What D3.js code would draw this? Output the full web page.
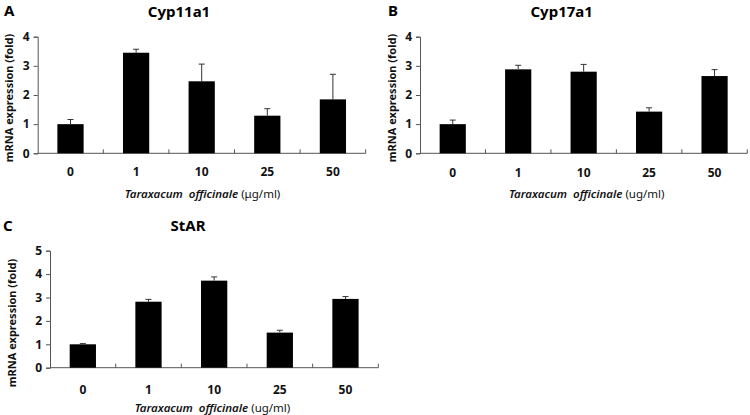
<!DOCTYPE html>
<html><head><meta charset="utf-8">
<script src="https://cdn.jsdelivr.net/npm/d3@7"></script>
<style>
body{margin:0;background:#fff;}
svg{display:block;font-family:"Noto Sans","Open Sans",sans-serif;}
</style></head>
<body>
<svg id="c" width="750" height="415"></svg>
<script>
const categories = ["0","1","10","25","50"];
const cypA_values = [1.0, 3.45, 2.47, 1.29, 1.85];
const cypA_errors = [0.16, 0.12, 0.59, 0.24, 0.86];
const cypB_values = [1.0, 2.88, 2.80, 1.43, 2.65];
const cypB_errors = [0.14, 0.14, 0.25, 0.13, 0.22];
const star_values = [1.0, 2.82, 3.72, 1.50, 2.94];
const star_errors = [0.03, 0.10, 0.16, 0.10, 0.10];
const yTicksAB = [0,1,2,3,4];
const yTicksC = [0,1,2,3,4,5];

const panels = [
  {letter:"A", title:"Cyp11a1", unit:"(μg/ml)", values:cypA_values, errors:cypA_errors, ticks:yTicksAB, ymax:4,
   x0:37.7, x1:365.7, yTop:36.7, yBot:153.3, titleX:179, titleY:11, letterX:4, letterY:10,
   ytX:8, ytY:98, xtX:202.5, xtY:192.7, tlY:171.7},
  {letter:"B", title:"Cyp17a1", unit:"(ug/ml)", values:cypB_values, errors:cypB_errors, ticks:yTicksAB, ymax:4,
   x0:420, x1:747.3, yTop:36.7, yBot:153.3, titleX:561.7, titleY:11, letterX:388, letterY:10,
   ytX:391, ytY:98, xtX:586.7, xtY:192.7, tlY:172.5},
  {letter:"C", title:"StAR", unit:"(ug/ml)", values:star_values, errors:star_errors, ticks:yTicksC, ymax:5,
   x0:50, x1:378.3, yTop:250.7, yBot:367.7, titleX:188, titleY:225, letterX:3, letterY:225,
   ytX:11, ytY:323, xtX:212.5, xtY:406.7, tlY:389.3}
];

const svg = d3.select("#c");
const axisColor = "#555";

panels.forEach(p => {
  const g = svg.append("g");
  const x = d3.scaleBand().domain(categories).range([p.x0, p.x1]).paddingInner(0.6).paddingOuter(0.3);
  const y = d3.scaleLinear().domain([0, p.ymax]).range([p.yBot, p.yTop]);

  const ya = g.append("g").attr("transform", `translate(${p.x0},0)`)
    .call(d3.axisLeft(y).tickValues(p.ticks).tickSize(4).tickPadding(4).tickFormat(d3.format("d")));
  ya.select(".domain").attr("stroke", axisColor);
  ya.selectAll(".tick line").attr("stroke", axisColor);
  ya.selectAll(".tick text").attr("font-size", 12).attr("font-weight", "bold").attr("fill", "#111")
    .attr("font-family", '"Noto Sans",sans-serif');

  g.append("line").attr("x1", p.x0).attr("x2", p.x1).attr("y1", y(0)).attr("y2", y(0))
    .attr("stroke", axisColor).attr("stroke-width", 1);
  const step = x.step();
  const bounds = categories.map((c, i) => x(c) - step * 0.3 + step);
  g.selectAll(".xt").data(bounds).join("line")
    .attr("x1", d => d).attr("x2", d => d).attr("y1", y(0)).attr("y2", y(0) - 4)
    .attr("stroke", axisColor);

  g.selectAll(".bar").data(p.values).join("rect")
    .attr("x", (d, i) => x(categories[i])).attr("width", x.bandwidth())
    .attr("y", d => y(d)).attr("height", d => y(0) - y(d)).attr("fill", "#000");
  p.values.forEach((v, i) => {
    const cx = x(categories[i]) + x.bandwidth() / 2;
    g.append("line").attr("x1", cx).attr("x2", cx).attr("y1", y(v)).attr("y2", y(v + p.errors[i]))
      .attr("stroke", "#333").attr("stroke-width", 1);
    g.append("line").attr("x1", cx - 3).attr("x2", cx + 3).attr("y1", y(v + p.errors[i])).attr("y2", y(v + p.errors[i]))
      .attr("stroke", "#333").attr("stroke-width", 1);
  });

  g.selectAll(".cl").data(categories).join("text")
    .attr("x", d => x(d) + x.bandwidth() / 2).attr("y", p.tlY)
    .attr("text-anchor", "middle").attr("dominant-baseline", "central")
    .attr("font-size", 12).attr("font-weight", "bold").attr("fill", "#111").text(d => d);

  g.append("text").attr("x", p.titleX).attr("y", p.titleY).attr("text-anchor", "middle")
    .attr("dominant-baseline", "central").attr("font-size", 15).attr("font-weight", "bold").text(p.title);
  g.append("text").attr("x", p.letterX).attr("y", p.letterY).attr("dominant-baseline", "central")
    .attr("font-size", 15).attr("font-weight", "bold").text(p.letter);
  g.append("text").attr("transform", `translate(${p.ytX},${p.ytY}) rotate(-90)`)
    .attr("text-anchor", "middle").attr("dominant-baseline", "central")
    .attr("font-size", 11).attr("font-weight", "bold").attr("fill", "#111").text("mRNA expression (fold)");
  const xt = g.append("text").attr("x", p.xtX).attr("y", p.xtY).attr("text-anchor", "middle")
    .attr("dominant-baseline", "central").attr("font-size", 11.5).attr("fill", "#111")
    .attr("xml:space", "preserve").style("white-space", "pre");
  xt.append("tspan").attr("font-style", "italic").attr("font-weight", "600").text("Taraxacum  officinale");
  xt.append("tspan").attr("font-weight", "normal").text(" " + p.unit);
});
</script>
</body></html>
